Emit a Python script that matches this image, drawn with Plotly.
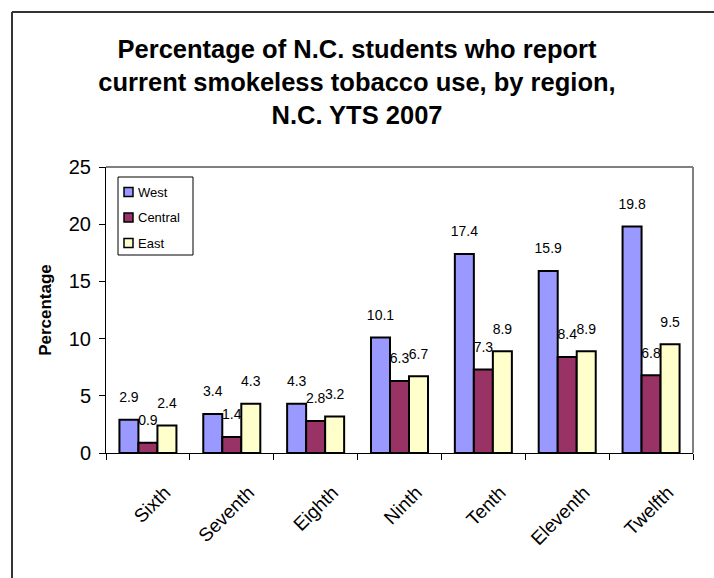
import plotly.graph_objects as go

grades = ["Sixth", "Seventh", "Eighth", "Ninth", "Tenth", "Eleventh", "Twelfth"]
west = [2.9, 3.4, 4.3, 10.1, 17.4, 15.9, 19.8]
central = [0.9, 1.4, 2.8, 6.3, 7.3, 8.4, 6.8]
east = [2.4, 4.3, 3.2, 6.7, 8.9, 8.9, 9.5]
series = [("West", west, "#9999FF"), ("Central", central, "#993366"), ("East", east, "#FFFFCC")]

FONT = "Liberation Sans, Arial, sans-serif"
W, H = 714, 578
L, R, T, B = 106, 21, 167, 125
pw, ph = W - L - R, H - T - B


def px(x):
    return (x - L) / pw


def py(y):
    return (H - B - y) / ph


fig = go.Figure()
for name, vals, col in series:
    fig.add_trace(go.Bar(
        x=grades, y=vals, name=name, showlegend=False, offsetgroup=name,
        marker=dict(color=col, line=dict(color="black", width=2)),
        hoverinfo="skip",
    ))
for name, vals, col in series:
    fig.add_trace(go.Scatter(
        x=grades, y=vals, name=name + " labels", showlegend=False, offsetgroup=name,
        mode="markers+text", marker=dict(size=21, opacity=0),
        text=[f"{v:.1f}" for v in vals], textposition="top center",
        textfont=dict(size=14, color="black", family=FONT),
        cliponaxis=False, hoverinfo="skip",
    ))

shapes = [
    dict(type="line", xref="paper", yref="paper", x0=0, x1=1, y0=1, y1=1,
         line=dict(color="#808080", width=2), layer="below"),
    dict(type="line", xref="paper", yref="paper", x0=1, x1=1, y0=0, y1=1,
         line=dict(color="#808080", width=2), layer="below"),
    dict(type="line", xref="paper", yref="paper", x0=px(12), x1=px(12), y0=-2, y1=py(12),
         line=dict(color="#333333", width=2)),
    dict(type="line", xref="paper", yref="paper", x0=px(12), x1=2, y0=py(12), y1=py(12),
         line=dict(color="#333333", width=2)),
    dict(type="rect", xref="paper", yref="paper", x0=px(118), x1=px(193), y0=py(255), y1=py(177),
         line=dict(color="black", width=1), fillcolor="white"),
]
annotations = []
for i, (name, vals, col) in enumerate(series):
    cy = 192 + i * 25.5
    shapes.append(dict(type="rect", xref="paper", yref="paper",
                       x0=px(124), x1=px(133), y0=py(cy + 4.5), y1=py(cy - 4.5),
                       line=dict(color="black", width=1.5), fillcolor=col))
    annotations.append(dict(text=name, xref="paper", yref="paper", x=px(136), y=py(cy),
                            xanchor="left", yanchor="middle", showarrow=False,
                            font=dict(size=13, family=FONT, color="black")))

fig.update_layout(
    width=W, height=H,
    margin=dict(l=L, r=R, t=T, b=B),
    paper_bgcolor="white", plot_bgcolor="white",
    font=dict(family=FONT, color="black"),
    barmode="group", bargap=0.32, bargroupgap=0,
    scattermode="group", scattergap=0.32,
    title=dict(
        text="Percentage of N.C. students who report<br>current smokeless tobacco use, by region,<br>N.C. YTS 2007",
        font=dict(size=25.5, family=FONT, color="black", weight="bold"),
        x=0.5, xanchor="center", y=(H - 58) / H, yanchor="middle",
    ),
    showlegend=False,
    xaxis=dict(
        tickangle=-45, tickfont=dict(size=19, family=FONT),
        showline=True, linecolor="black", linewidth=1,
        ticks="outside", tickson="boundaries", ticklen=6, tickcolor="black",
        showgrid=False, ticklabelshift=17, ticklabelstandoff=20,
    ),
    yaxis=dict(
        range=[0, 25], dtick=5, tickfont=dict(size=20, family=FONT),
        showline=True, linecolor="black", linewidth=1,
        ticks="outside", ticklen=6, tickcolor="black",
        showgrid=False, zeroline=False, ticklabelstandoff=4,
        title=dict(text="Percentage", font=dict(size=17, family=FONT, weight="bold"), standoff=12),
    ),
    shapes=shapes,
    annotations=annotations,
)

fig.write_html("out.html", post_script="document.body.style.margin='0';",
               config={"displayModeBar": False})
